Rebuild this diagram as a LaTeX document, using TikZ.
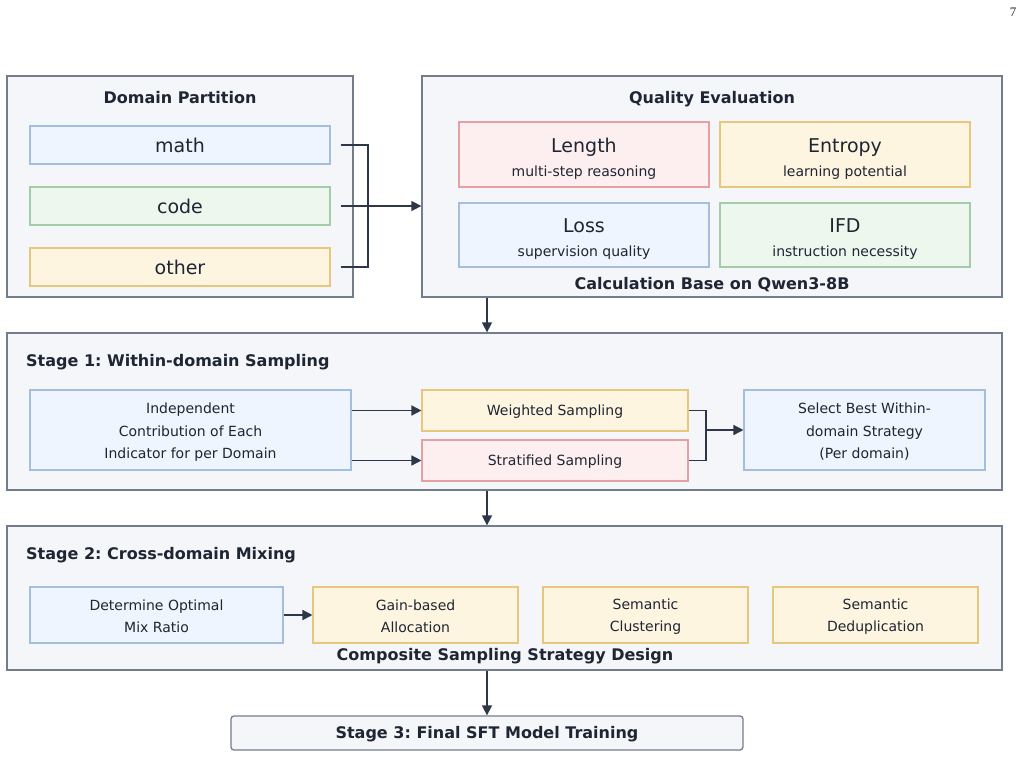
\documentclass[tikz,border=0pt]{standalone}
\usepackage{fontspec}
\setmainfont{DejaVu Sans}
\newfontfamily\pagefont{Liberation Serif}
\usetikzlibrary{arrows.meta}
\frenchspacing
\definecolor{outerf}{HTML}{F5F6FA}
\definecolor{outerc}{HTML}{737E8C}
\definecolor{bluef}{HTML}{EEF5FE}
\definecolor{blueb}{HTML}{A4BFDD}
\definecolor{greenf}{HTML}{EDF7EE}
\definecolor{greenb}{HTML}{A3CCA8}
\definecolor{yelf}{HTML}{FEF5E0}
\definecolor{yelb}{HTML}{E6C77D}
\definecolor{pinkf}{HTML}{FDEFEF}
\definecolor{pinkb}{HTML}{E3A1A4}
\definecolor{arrc}{HTML}{2D3748}
\definecolor{txt}{HTML}{1E2533}
\tikzset{
  outer/.style={draw=outerc, fill=outerf, line width=1.3pt, inner sep=0pt, rectangle},
  box/.style={line width=1.1pt, inner sep=0pt, align=center, text=txt, rectangle},
  bluebox/.style={box, draw=blueb, fill=bluef},
  greenbox/.style={box, draw=greenb, fill=greenf},
  yelbox/.style={box, draw=yelb, fill=yelf},
  pinkbox/.style={box, draw=pinkb, fill=pinkf},
  ttl/.style={text=txt, font=\fontsize{16}{19}\selectfont\bfseries, inner sep=0pt, anchor=base},
  dom/.style={font=\fontsize{19}{22}\selectfont},
  small/.style={font=\fontsize{14}{22.5}\selectfont},
  big/.style={text=txt, font=\fontsize{19}{22}\selectfont, inner sep=0pt, anchor=base},
  sub/.style={text=txt, font=\fontsize{14}{17}\selectfont, inner sep=0pt, anchor=base},
  arr/.style={draw=arrc, line width=1.5pt, -{Triangle[length=10pt,width=10pt]}},
  ln/.style={draw=arrc, line width=1.5pt},
}
\begin{document}
\begin{tikzpicture}[x=1pt,y=-1pt]
\useasboundingbox (0,0) rectangle (1023,758);
\node[font=\pagefont\fontsize{13}{15}\selectfont, text=txt] (pg) at (1013,12) {7};

% Domain Partition
\node[outer, minimum width=346pt, minimum height=221pt] (dp) at (180,186.5) {};
\node[ttl] (dpt) at (180,103) {Domain Partition};
\node[bluebox, dom, minimum width=300pt, minimum height=38pt] (math) at (180,145) {math};
\node[greenbox, dom, minimum width=300pt, minimum height=38pt] (code) at (180,206) {code};
\node[yelbox, dom, minimum width=300pt, minimum height=38pt] (other) at (180,267) {other};

% Quality Evaluation
\node[outer, minimum width=580pt, minimum height=221pt] (qe) at (712,186.5) {};
\node[ttl] (qet) at (712,103) {Quality Evaluation};
\node[pinkbox, minimum width=250pt, minimum height=65pt] (len) at (584,154.5) {};
\node[yelbox, minimum width=250pt, minimum height=65pt] (ent) at (845,154.5) {};
\node[bluebox, minimum width=250pt, minimum height=64pt] (loss) at (584,235) {};
\node[greenbox, minimum width=250pt, minimum height=64pt] (ifd) at (845,235) {};
\node[big] (lent) at (584,152) {Length};
\node[sub] (lens) at (584,176) {multi-step reasoning};
\node[big] (entt) at (845,152) {Entropy};
\node[sub] (ents) at (845,176) {learning potential};
\node[big] (losst) at (584,232) {Loss};
\node[sub] (losss) at (584,256) {supervision quality};
\node[big] (ifdt) at (845,232) {IFD};
\node[sub] (ifds) at (845,256) {instruction necessity};
\node[ttl] (calc) at (712,289) {Calculation Base on Qwen3-8B};

\coordinate (j1) at (368,206);
\draw[ln] ([xshift=10pt]math.east) -| (j1);
\draw[ln] ([xshift=10pt]other.east) -| (j1);
\draw[arr] ([xshift=10pt]code.east) -- (code.east -| qe.west);

% Stage 1
\node[outer, minimum width=995pt, minimum height=157pt] (s1) at (504.5,411.5) {};
\node[ttl, anchor=base west] (s1t) at (26,366) {Stage 1: Within-domain Sampling};
\node[bluebox, small, minimum width=321pt, minimum height=80pt] (ind) at (190.5,430) {};
\node[small, text=txt, align=center, inner sep=0pt] (indt) at (190.5,432.5)
  {Independent\\Contribution of Each\\Indicator for per Domain};
\node[yelbox, small, minimum width=266pt, minimum height=41pt] (wei) at (555,410.5) {};
\node[small, text=txt, inner sep=0pt] (weit) at (555,411.5) {Weighted Sampling};
\node[pinkbox, small, minimum width=266pt, minimum height=41pt] (str) at (555,460.5) {};
\node[small, text=txt, inner sep=0pt] (strt) at (555,461.5) {Stratified Sampling};
\node[bluebox, small, minimum width=241pt, minimum height=80pt] (sel) at (864.5,430) {};
\node[small, text=txt, align=center, inner sep=0pt] (selt) at (864.5,432)
  {Select Best Within-\\domain Strategy\\(Per domain)};
\draw[arr] (wei.west -| ind.east) -- (wei.west);
\draw[arr] (str.west -| ind.east) -- (str.west);
\coordinate (j2) at (706,430);
\draw[ln] (wei.east) -| (j2);
\draw[ln] (str.east) -| (j2);
\draw[arr] (j2) -- (sel.west);

\draw[arr] (qe.south -| 487,0) -- (s1.north -| 487,0);

% Stage 2
\node[outer, minimum width=995pt, minimum height=144pt] (s2) at (504.5,598) {};
\node[ttl, anchor=base west] (s2t) at (26,559) {Stage 2: Cross-domain Mixing};
\node[bluebox, minimum width=253pt, minimum height=56pt] (det) at (156.5,615) {};
\node[yelbox, minimum width=205pt, minimum height=56pt] (gain) at (415.5,615) {};
\node[yelbox, minimum width=205pt, minimum height=56pt] (clu) at (645.5,615) {};
\node[yelbox, minimum width=205pt, minimum height=56pt] (ded) at (875.5,615) {};
\node[small, text=txt, align=center, inner sep=0pt] (dett) at (156.5,616.5) {Determine Optimal\\Mix Ratio};
\node[small, text=txt, align=center, inner sep=0pt] (gaint) at (415.5,616.5) {Gain-based\\Allocation};
\node[small, text=txt, align=center, inner sep=0pt] (clut) at (645.5,616.5) {Semantic\\Clustering};
\node[small, text=txt, align=center, inner sep=0pt] (dedt) at (875.5,616.5) {Semantic\\Deduplication};
\node[ttl] (comp) at (505,660) {Composite Sampling Strategy Design};
\draw[arr] (det.east) -- (gain.west);

\draw[arr] (s1.south -| 487,0) -- (s2.north -| 487,0);

% Stage 3
\node[outer, rounded corners=3pt, minimum width=512pt, minimum height=34pt] (s3) at (487,733) {};
\node[ttl] (s3t) at (487,738) {Stage 3: Final SFT Model Training};
\draw[arr] (s2.south -| s3.north) -- (s3.north);
\end{tikzpicture}
\end{document}
